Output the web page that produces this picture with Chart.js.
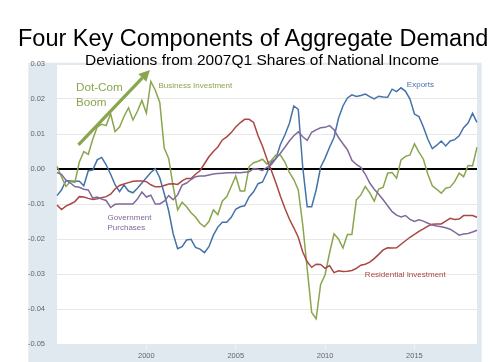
<!DOCTYPE html>
<html>
<head>
<meta charset="utf-8">
<script src="https://cdn.jsdelivr.net/npm/chart.js@4"></script>
<style>
  html, body { margin: 0; padding: 0; background: #fff; }
  #wrap { position: relative; width: 500px; height: 362px; overflow: hidden; }
  #chart { position: absolute; left: 0; top: 0; }
  .ttl { position: absolute; white-space: nowrap; font-family: 'Liberation Sans', Arial, sans-serif; color: #000; line-height: normal; }
  #title { left: 18px; top: 25px; font-size: 23.5px; }
  #subtitle { left: 85px; top: 51px; font-size: 15.5px; }
</style>
</head>
<body>
<div id="wrap">
  <canvas id="chart" width="500" height="362"></canvas>
  <div id="title" class="ttl">Four Key Components of Aggregate Demand</div>
  <div id="subtitle" class="ttl">Deviations from 2007Q1 Shares of National Income</div>
</div>
<script>
// quarterly, 1995Q1 .. 2018Q3
var quarters = [];
for (var y = 1995; y <= 2018; y++) {
  for (var q = 1; q <= 4; q++) {
    if (y == 2018 && q > 3) break;
    quarters.push(y + 'Q' + q);
  }
}

var exportsData = [
  -0.0076, -0.0060, -0.0033, -0.0034, -0.0035, -0.0035, -0.0048, -0.0005, -0.0003, 0.0026,
  0.0033, 0.0012, -0.0015, -0.0045, -0.0065, -0.0046, -0.0063, -0.0068, -0.0055, -0.0040,
  -0.0025, -0.0010, 0.0001, -0.0025, -0.0070, -0.0120, -0.0185, -0.0228, -0.0222, -0.0203,
  -0.0201, -0.0224, -0.0229, -0.0239, -0.0222, -0.0189, -0.0166, -0.0152, -0.0152, -0.0138,
  -0.0115, -0.0108, -0.0105, -0.0080, -0.0065, -0.0042, -0.0037, -0.0010, 0.0020, 0.0030,
  0.0070, 0.0097, 0.0130, 0.0180, 0.0170, 0.0005, -0.0108, -0.0108, -0.0060, 0.0005,
  0.0031, 0.0062, 0.0090, 0.0145, 0.0180, 0.0203, 0.0212, 0.0207, 0.0210, 0.0214,
  0.0207, 0.0200, 0.0208, 0.0206, 0.0205, 0.0228, 0.0221, 0.0232, 0.0222, 0.0200,
  0.0157, 0.0150, 0.0120, 0.0085, 0.0058, 0.0068, 0.0080, 0.0066, 0.0080, 0.0084,
  0.0095, 0.0118, 0.0131, 0.0159, 0.0133
];

var businessData = [
  0.0008, -0.0022, -0.0050, -0.0036, -0.0038, 0.0020, 0.0050, 0.0042, 0.0085, 0.0120,
  0.0128, 0.0124, 0.0158, 0.0107, 0.0120, 0.0150, 0.0175, 0.0140, 0.0165, 0.0196,
  0.0160, 0.0250, 0.0225, 0.0190, 0.0060, 0.0030, -0.0050, -0.0117, -0.0095, -0.0108,
  -0.0125, -0.0137, -0.0155, -0.0165, -0.0150, -0.0117, -0.0130, -0.0092, -0.0079, -0.0050,
  -0.0020, -0.0063, -0.0063, 0.0007, 0.0018, 0.0022, 0.0028, 0.0014, 0.0025, 0.0040,
  0.0040, 0.0020, -0.0010, -0.0030, -0.0060, -0.0160, -0.0285, -0.0410, -0.0428, -0.0330,
  -0.0302, -0.0240, -0.0185, -0.0200, -0.0226, -0.0187, -0.0187, -0.0088, -0.0074, -0.0050,
  -0.0068, -0.0092, -0.0057, -0.0052, -0.0012, -0.0010, -0.0026, 0.0026, 0.0036, 0.0040,
  0.0072, 0.0048, 0.0028, -0.0015, -0.0048, -0.0058, -0.0069, -0.0055, -0.0052, -0.0036,
  -0.0012, -0.0022, 0.0010, 0.0009, 0.0062
];

var residentialData = [
  -0.0103, -0.0116, -0.0106, -0.0100, -0.0093, -0.0079, -0.0080, -0.0084, -0.0087, -0.0085,
  -0.0082, -0.0079, -0.0072, -0.0057, -0.0047, -0.0043, -0.0039, -0.0035, -0.0034, -0.0034,
  -0.0036, -0.0045, -0.0051, -0.0051, -0.0047, -0.0043, -0.0042, -0.0044, -0.0034, -0.0027,
  -0.0027, -0.0015, -0.0005, 0.0015, 0.0035, 0.0050, 0.0063, 0.0083, 0.0092, 0.0104,
  0.0120, 0.0132, 0.0142, 0.0142, 0.0133, 0.0095, 0.0065, 0.0028, -0.0005, -0.0040,
  -0.0078, -0.0112, -0.0143, -0.0168, -0.0195, -0.0237, -0.0265, -0.0281, -0.0272, -0.0273,
  -0.0284, -0.0276, -0.0296, -0.0291, -0.0293, -0.0292, -0.0290, -0.0284, -0.0275, -0.0272,
  -0.0266, -0.0256, -0.0244, -0.0231, -0.0225, -0.0226, -0.0225, -0.0215, -0.0205, -0.0195,
  -0.0187, -0.0178, -0.0171, -0.0163, -0.0158, -0.0157, -0.0157, -0.0149, -0.0141, -0.0144,
  -0.0143, -0.0133, -0.0133, -0.0133, -0.0138
];

var governmentData = [
  -0.0010, -0.0015, -0.0032, -0.0040, -0.0050, -0.0052, -0.0058, -0.0060, -0.0083, -0.0080,
  -0.0086, -0.0090, -0.0110, -0.0101, -0.0100, -0.0100, -0.0100, -0.0100, -0.0086, -0.0066,
  -0.0080, -0.0075, -0.0100, -0.0100, -0.0092, -0.0076, -0.0088, -0.0074, -0.0046, -0.0040,
  -0.0030, -0.0022, -0.0020, -0.0020, -0.0017, -0.0014, -0.0013, -0.0012, -0.0011, -0.0011,
  -0.0010, -0.0011, -0.0009, -0.0008, 0.0001, -0.0001, -0.0004, 0.0005, 0.0013, 0.0030,
  0.0045, 0.0062, 0.0080, 0.0095, 0.0106, 0.0092, 0.0082, 0.0105, 0.0112, 0.0118,
  0.0119, 0.0124, 0.0112, 0.0090, 0.0072, 0.0055, 0.0025, 0.0013, 0.0005, -0.0015,
  -0.0040, -0.0058, -0.0072, -0.0088, -0.0105, -0.0122, -0.0132, -0.0137, -0.0133, -0.0144,
  -0.0150, -0.0145, -0.0149, -0.0155, -0.0160, -0.0163, -0.0165, -0.0168, -0.0172, -0.0180,
  -0.0189, -0.0186, -0.0184, -0.0180, -0.0175
];

var yTicks = [-0.05, -0.04, -0.03, -0.02, -0.01, 0.00, 0.01, 0.02, 0.03];
var xTickYears = [2000, 2005, 2010, 2015];

var BLUE = '#4572A7', RED = '#AA4643', GREEN = '#89A54E', PURPLE = '#80699B';
var FONT = "'Liberation Sans', Arial, sans-serif";

// labels on the plot, placed in data units [quarter index, value]
var notes = [
  { text: 'Business Investment', at: [22.7, 0.0237], color: GREEN, size: 8 },
  { text: 'Exports', at: [78.3, 0.0242], color: BLUE, size: 8 },
  { text: 'Government', at: [11.3, -0.0138], color: PURPLE, size: 8 },
  { text: 'Purchases', at: [11.3, -0.0168], color: PURPLE, size: 8 },
  { text: 'Residential Investment', at: [68.9, -0.0301], color: RED, size: 8 },
  { text: 'Dot-Com', at: [4.25, 0.0231], color: GREEN, size: 11.7 },
  { text: 'Boom', at: [4.25, 0.0188], color: GREEN, size: 11.7 }
];
var arrowFrom = [4.8, 0.0069], arrowTo = [20.8, 0.0283];

var framePlugin = {
  id: 'frame',
  beforeDraw: function(chart) {
    var ctx = chart.ctx, a = chart.chartArea;
    ctx.save();
    ctx.fillStyle = '#e1e9f0';
    ctx.fillRect(a.left - 28.7, a.top - 1.3, (a.right - a.left) + 33.4, chart.height - a.top + 1.3);
    ctx.fillStyle = '#ffffff';
    ctx.fillRect(a.left, a.top, a.right - a.left, a.bottom - a.top);
    ctx.restore();
  }
};

var notesPlugin = {
  id: 'notes',
  afterDatasetsDraw: function(chart) {
    var ctx = chart.ctx, xs = chart.scales.x, ys = chart.scales.y;
    ctx.save();
    ctx.textBaseline = 'middle';
    ctx.textAlign = 'left';
    notes.forEach(function(n) {
      ctx.font = n.size + 'px ' + FONT;
      ctx.fillStyle = n.color;
      ctx.fillText(n.text, xs.getPixelForValue(n.at[0]), ys.getPixelForValue(n.at[1]));
    });
    // dot-com arrow
    var x1 = xs.getPixelForValue(arrowFrom[0]), y1 = ys.getPixelForValue(arrowFrom[1]);
    var x2 = xs.getPixelForValue(arrowTo[0]), y2 = ys.getPixelForValue(arrowTo[1]);
    var ang = Math.atan2(y2 - y1, x2 - x1), head = 11, hw = 5.5;
    var bx = x2 - head * Math.cos(ang), by = y2 - head * Math.sin(ang);
    ctx.strokeStyle = GREEN;
    ctx.fillStyle = GREEN;
    ctx.lineWidth = 3.2;
    ctx.beginPath();
    ctx.moveTo(x1, y1);
    ctx.lineTo(bx, by);
    ctx.stroke();
    ctx.beginPath();
    ctx.moveTo(x2, y2);
    ctx.lineTo(bx + hw * Math.sin(ang), by - hw * Math.cos(ang));
    ctx.lineTo(bx - hw * Math.sin(ang), by + hw * Math.cos(ang));
    ctx.closePath();
    ctx.fill();
    ctx.restore();
  }
};

function line(label, data, color) {
  return { label: label, data: data, borderColor: color, backgroundColor: color,
           borderWidth: 1.5, pointRadius: 0, tension: 0, fill: false };
}

new Chart(document.getElementById('chart'), {
  type: 'line',
  data: {
    labels: quarters,
    datasets: [
      line('Government Purchases', governmentData, PURPLE),
      line('Residential Investment', residentialData, RED),
      line('Business Investment', businessData, GREEN),
      line('Exports', exportsData, BLUE)
    ]
  },
  options: {
    responsive: false,
    animation: false,
    layout: { padding: { left: 28, right: 23, top: 64, bottom: 0 } },
    plugins: { legend: { display: false }, tooltip: { enabled: false }, title: { display: false } },
    scales: {
      x: {
        type: 'category',
        offset: false,
        afterFit: function(s) { s.height = 18; },
        border: { display: false },
        grid: {
          drawOnChartArea: false,
          drawTicks: true,
          tickLength: 5,
          color: function(c) { return (c.tick && c.tick.label) ? '#f3f6f9' : 'rgba(0,0,0,0)'; }
        },
        ticks: {
          autoSkip: false,
          maxRotation: 0,
          padding: 2,
          color: '#666',
          font: { family: FONT, size: 7.5 },
          callback: function(v) {
            var l = this.getLabelForValue(v);
            var yr = parseInt(l.substring(0, 4));
            return (l.slice(-2) == 'Q1' && xTickYears.indexOf(yr) >= 0) ? String(yr) : '';
          }
        }
      },
      y: {
        min: yTicks[0],
        max: yTicks[yTicks.length - 1],
        afterFit: function(s) { s.width = 29; },
        afterBuildTicks: function(s) { s.ticks = yTicks.map(function(v) { return { value: v }; }); },
        border: { display: false },
        grid: {
          drawTicks: false,
          color: function(c) { return Math.abs(c.tick.value) < 1e-9 ? '#000' : '#e8e8e8'; },
          lineWidth: function(c) { return Math.abs(c.tick.value) < 1e-9 ? 2 : 1; }
        },
        ticks: {
          padding: 12,
          color: '#666',
          font: { family: FONT, size: 7.5 },
          callback: function(v) { return (Math.abs(v) < 1e-9 ? 0 : v).toFixed(2); }
        }
      }
    }
  },
  plugins: [framePlugin, notesPlugin]
});
</script>
</body>
</html>
